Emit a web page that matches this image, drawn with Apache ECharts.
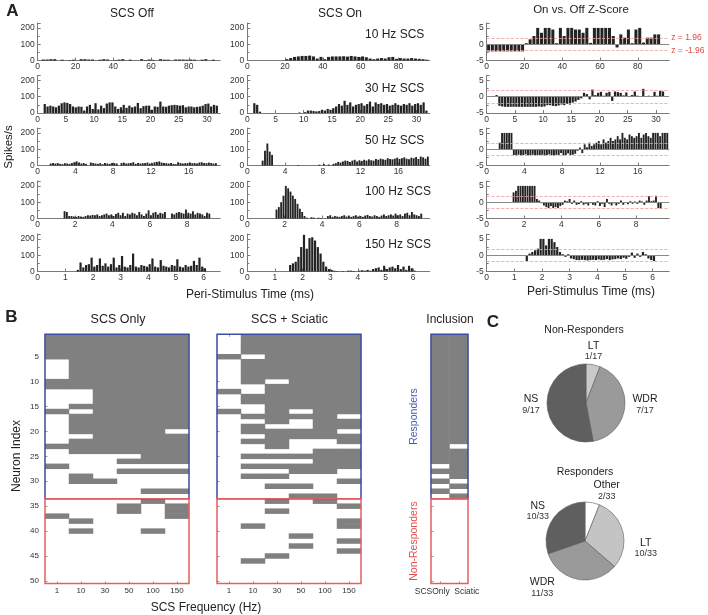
<!DOCTYPE html>
<html><head><meta charset="utf-8">
<script src="https://cdn.jsdelivr.net/npm/echarts@6/dist/echarts.min.js"></script>
<style>html,body{margin:0;padding:0;background:#fff}#c{width:708px;height:615px}</style>
</head><body><div id="c"></div>
<script>
// ================= DATA =================
// Panel A: peri-stimulus histograms (spikes/s) and z-scores
const freqLabels = ['10 Hz SCS', '30 Hz SCS', '50 Hz SCS', '100 Hz SCS', '150 Hz SCS'];
const binWidth = [2, 0.5, 0.25, 0.125, 0.1];      // ms per bin
const xMax = [96.6, 32.35, 19.33, 9.77, 6.6];      // ms
const xTickStep = [20, 5, 4, 2, 1];
const offStart = [1, 2, 5, 11, 14];                // index of first bin listed
const onStart = [10, 2, 6, 12, 15];
const zStart = [0, 2, 5, 11, 14];

const off10 = [6,6,8,8,0,5,0,3,5,0,8,8,6,6,0,5,8,6,0,3,5,8,0,5,0,0,8,3,6,4,0,8,5,5,0,6,6,6,5,6,5,0,5,8,0,5,0];
const on10 = [8,15,22,25,28,28,30,25,12,22,8,22,25,25,25,26,24,28,25,22,25,20,12,8,12,15,12,20,22,10,15,12,12,15,12,10,8,5];
const z10 = [-2.2,-2.2,-2.2,-2.2,-2.2,-2.2,-2.2,-2.2,-2.2,-2.2,0.3,1.5,2.5,5,3.5,5,5,4.5,0.3,5,2.5,5,5,4.5,4.5,3.5,5,0.4,5,5,5,5,5,2.5,-1,3,2,4.5,0.3,4.5,5,0.5,2,2,3,3,0,0];

const off30 = [55,40,45,40,35,45,60,65,62,55,40,35,40,38,15,40,50,25,60,22,45,30,58,65,65,40,25,35,50,32,45,35,40,62,30,42,45,45,20,40,38,70,40,38,45,48,50,48,45,48,35,40,40,35,38,40,45,55,58,40,50,45];
const on30 = [60,50,8,0,0,0,0,0,0,0,0,0,0,0,0,0,3,0,5,15,15,12,10,12,20,15,25,20,30,40,55,45,75,50,65,40,50,55,60,45,55,70,40,65,55,60,50,55,45,50,60,50,45,55,50,60,45,55,60,50,65,15];
const z30 = [0.2,0.5,-2.8,-3.0,-3.1,-3.1,-3.1,-3.1,-3.1,-3.1,-3.1,-3.1,-3.1,-3.1,-3.1,-3.1,-3.0,-3.1,-3.0,-2.6,-2.6,-2.8,-2.9,-2.7,-2.4,-2.6,-2.2,-2.4,-1.8,-1.5,-1.0,-0.5,1.2,0.8,-0.8,2.2,0.5,1.2,1.5,0.3,1.2,1.5,-1.3,1.6,1.4,1.2,0.4,1.3,0.2,0.5,1.6,0.3,0.2,2.4,0.2,0.3,0.2,1.5,0.3,1.8,1.6,0.1];

const off50 = [12,15,12,15,10,8,14,12,10,15,20,25,18,12,15,10,0,18,15,12,10,14,8,15,12,10,15,14,12,0,15,18,12,14,15,20,10,15,12,14,15,18,12,14,20,22,25,18,15,14,12,15,10,8,20,15,12,14,15,18,14,15,12,18,20,15,14,18,15,12,14];
const on50 = [30,90,135,85,65,0,0,0,0,0,0,0,0,0,0,3,0,0,0,0,0,0,0,0,5,0,8,0,6,0,10,14,22,18,25,30,28,22,30,35,25,32,28,35,30,38,32,30,40,35,42,38,35,45,40,38,42,48,40,45,50,42,38,48,45,52,40,55,50,42,55];
const z50 = [2,5,5,5,5,5,-1.8,-1.9,-1.7,-1.9,-1.8,-1.6,-1.9,-1.8,-1.7,-1.9,-1.8,-1.8,-1.7,-1.9,-1.8,-1.6,-1.8,-1.9,-1.7,-1.8,-1.2,-1.9,-1.8,-1.3,-1.8,-1.7,-1.4,-0.5,0.5,-1.2,1.5,0.6,2,1,1.5,2,2.5,1.5,3,2,2.5,3.5,2.5,3,4,3,5,3.5,3,4.5,4,3.5,4,5,3.5,4.5,5,4,3.5,5,5,5,4,5,5,5];

const off100 = [45,40,15,15,12,10,15,12,10,15,20,18,22,20,25,15,20,25,30,20,25,15,28,35,20,35,15,30,25,35,30,20,40,25,15,30,50,20,35,40,25,35,30,40,0,0,30,25,35,40,35,30,55,35,30,45,25,35,30,25,15,35,30,0];
const on100 = [55,70,100,140,200,185,165,140,120,90,60,40,15,5,0,8,5,0,5,3,0,0,15,20,10,15,12,10,15,20,12,18,10,15,20,12,15,10,18,22,15,12,20,15,10,18,25,15,20,25,18,30,20,25,15,30,35,20,40,25,20,15,30];
const z100 = [3,3.5,5,5,5,5,5,5,5,5,1,0.5,-0.3,-1,-1.5,-1.8,-1.2,-1.8,-1.5,-1.8,-1.2,-0.8,0.5,0.3,1,-0.5,0.5,-0.8,-0.6,0.3,-0.8,-0.5,-1,-0.3,-0.8,-1,0.3,-1.2,-0.5,-1.5,1,-0.5,-1,-0.3,-1,-0.5,0.5,-0.8,-0.2,-0.6,0.3,-0.5,0.2,-0.5,0.5,0.2,-0.8,0.5,1.8,0.3,0.5,2,-1.8,-2];

const off150 = [10,55,25,40,45,85,30,40,80,35,50,30,45,85,25,40,95,30,25,40,110,30,25,40,35,30,45,80,30,25,70,35,30,25,40,35,75,30,25,40,30,35,65,40,85,30,20,0];
const on150 = [40,50,60,90,150,225,140,205,210,190,150,110,60,30,15,10,5,3,0,3,0,5,5,3,0,5,8,5,10,5,15,20,25,10,35,15,25,30,20,40,15,30,10,35,20,5,0];
const z150 = [-1.8,0.5,1,1.5,2,5,5,3,5,5,4,2.5,1,0.3,-0.5,0.3,-1,-1.2,-1.5,-1.5,-1.4,-1.5,-1.6,-1.5,-1.4,-1.5,-1.3,-1.5,-1.4,-1.2,-1.5,-1.3,-1.2,-1.0,-1.2,-0.8,-1.1,-0.5,0.8,-0.8,0.5,-0.5,1,0.3,-1,-1.5,-1.8,0];

// Panel B: response matrices (rows = neurons 1..50, columns = SCS frequency; 1 = responded)
const freqCats = ['1', '10', '30', '50', '100', '150'];
const nResponders = 33;
const scsOnly = [
 '111111','111111','111111','111111','111111','011111','011111','011111','011111','111111',
 '111111','001111','001111','001111','011111','101111','011111','011111','011111','011110',
 '001111','011111','111111','011111','000011','000111','100000','000111','010000','011000',
 '000000','000011','000000','000010','000101','000101','100001','010000','000000','010010',
 '000000','000000','000000','000000','000000','000000','000000','000000','000000','000000'];
const scsSciatic = [
 '011111','011111','011111','011111','101111','011111','011111','011111','011111','010111',
 '001111','101111','011111','011111','001111','101011','011110','001011','010011','011110',
 '001111','011001','001000','000011','011111','000011','011111','000110','011000','000001',
 '001100','000000','000110','001010','000001','001000','000000','000001','010001','000000',
 '000100','000001','000100','000001','001000','010000','000000','000000','000000','000000'];
const inclCats = ['SCSOnly', 'Sciatic'];
const inclusion = [
 '11','11','11','11','11','11','11','11','11','11','11','11','11','11','11','11','11','11','11','11',
 '11','11','10','11','11','11','01','11','01','10','01','10','01',
 '00','00','00','00','00','00','00','00','00','00','00','00','00','00','00','00','00'];

// Panel C: neuron classes
const nonRespNames = ['LT', 'WDR', 'NS'];
const nonRespCounts = [1, 7, 9];
const respNames = ['Other', 'LT', 'WDR', 'NS'];
const respCounts = [2, 10, 11, 10];

// ================= CHART =================
const FONT = "'Liberation Sans', Arial, Helvetica, sans-serif";
const AX = '#7a7a7a', TXT = '#333';
const grids = [], xAxes = [], yAxes = [], series = [], heatIdx = [];

// ---- Panel A ----
const colLeft = [37.7, 247.3, 486.7], plotW = 182.5;
const rowBottom = [60.5, 113, 165.5, 218.5, 271.5], plotH = 37.5;
const offData = [off10, off30, off50, off100, off150];
const onData = [on10, on30, on50, on100, on150];
const zData = [z10, z30, z50, z100, z150];
const colData = [offData, onData, zData], colStart = [offStart, onStart, zStart];

for (let r = 0; r < 5; r++) {
  for (let c = 0; c < 3; c++) {
    const gi = grids.length;
    grids.push({left: colLeft[c], top: rowBottom[r] - plotH, width: plotW, height: plotH, outerBoundsMode: 'none'});
    const isZ = c === 2;
    const xi = xAxes.length, yi = yAxes.length;
    xAxes.push({gridIndex: gi, type: 'value', min: 0, max: xMax[r], interval: xTickStep[r],
      axisLine: {onZero: false, lineStyle: {color: AX, width: 1}},
      axisTick: {inside: true, length: 3, lineStyle: {color: AX}},
      axisLabel: {fontSize: 8.5, color: TXT, margin: 2, showMaxLabel: false, fontFamily: FONT},
      splitLine: {show: false}});
    yAxes.push({gridIndex: gi, type: 'value', min: isZ ? -5 : 0, max: isZ ? 6.5 : 230, interval: isZ ? 5 : 100,
      axisLine: {show: true, onZero: false, lineStyle: {color: AX, width: 1}},
      axisTick: {show: true, inside: true, length: 3, lineStyle: {color: AX}},
      minorTick: {show: true, splitNumber: 2, length: 2, lineStyle: {color: AX}},
      axisLabel: {fontSize: 8.5, color: TXT, margin: 3, showMaxLabel: false, fontFamily: FONT},
      splitLine: {show: false}, minorSplitLine: {show: false}});
    const arr = colData[c][r], s0 = colStart[c][r], bw = binWidth[r];
    const s = {type: 'bar', xAxisIndex: xi, yAxisIndex: yi, silent: true, barWidth: '80%',
      data: arr.map((v, i) => [(s0 + i + 0.5) * bw, v]), itemStyle: {color: '#232323'}};
    if (isZ) {
      const lab = (t) => ({show: r === 0, formatter: t, position: 'end', distance: 2, color: '#e04848', fontSize: 8.5, fontFamily: FONT});
      s.markLine = {silent: true, symbol: ['none', 'none'], animation: false,
        data: [
          {yAxis: 0, lineStyle: {color: '#8a8a8a', type: 'solid', width: 1}, label: {show: false}},
          {yAxis: 1.96, lineStyle: {color: '#f0a0a0', type: 'dashed', width: 0.8}, label: lab('z = 1.96')},
          {yAxis: -1.96, lineStyle: {color: '#f0a0a0', type: 'dashed', width: 0.8}, label: lab('z = -1.96')}
        ]};
    }
    series.push(s);
  }
}

// ---- Panel B ----
const rowsTop = Array.from({length: nResponders}, (_, i) => String(i + 1));
const rowsBot = Array.from({length: 50 - nResponders}, (_, i) => String(i + 1 + nResponders));
const every5 = (i, v) => Number(v) % 5 === 0;
function addHeat(left, width, cats, matrix, showY, xLabel) {
  [0, 1].forEach(part => {
    const rows = part ? rowsBot : rowsTop;
    const gi = grids.length;
    grids.push({left, width, top: part ? 498.7 : 334.3, height: part ? 84.7 : 164.4, show: true, z: 3,
      borderColor: part ? '#e35f5f' : '#3e4e9e', borderWidth: 1.5, backgroundColor: 'rgba(0,0,0,0)', outerBoundsMode: 'none'});
    const xi = xAxes.length;
    xAxes.push(Object.assign({gridIndex: gi, type: 'category', data: cats, position: 'bottom',
      axisLine: {show: false},
      axisTick: {show: part === 1, inside: true, alignWithLabel: true, length: 2, lineStyle: {color: '#999'}},
      axisLabel: {show: part === 1, interval: 0, fontSize: 8, color: TXT, margin: 3.5, fontFamily: FONT},
      splitLine: {show: false}}, part === 1 && xLabel ? xLabel : {}));
    if (part === 0) {
      xAxes.push({gridIndex: gi, type: 'category', data: cats, position: 'top', axisLine: {show: false},
        axisTick: {show: true, inside: true, alignWithLabel: true, length: 2.5, lineStyle: {color: '#999'}},
        axisLabel: {show: false}, splitLine: {show: false}});
    }
    const yi = yAxes.length;
    yAxes.push({gridIndex: gi, type: 'category', data: rows, inverse: true, axisLine: {show: false},
      axisTick: {show: true, inside: true, alignWithLabel: true, length: 2.5, interval: every5, lineStyle: {color: '#999'}},
      axisLabel: {show: showY, interval: every5, fontSize: 8, color: TXT, margin: 6, fontFamily: FONT},
      splitLine: {show: false}});
    const cells = [];
    rows.forEach((rl, ri) => {
      const str = matrix[Number(rl) - 1];
      for (let j = 0; j < str.length; j++) if (str[j] === '1') cells.push([j, ri, 1]);
    });
    heatIdx.push(series.length);
    series.push({type: 'heatmap', xAxisIndex: xi, yAxisIndex: yi, data: cells, silent: true, itemStyle: {color: '#808080'}});
  });
}
addHeat(45, 144, freqCats, scsOnly, true, null);
addHeat(217, 144, freqCats, scsSciatic, false, null);
addHeat(431, 37, inclCats, inclusion, false, {axisLabel: {show: true, interval: 0, margin: 3.5, color: TXT, fontFamily: FONT,
  formatter: v => v === 'SCSOnly' ? '{a|SCSOnly}' : '{b|Sciatic}',
  rich: {a: {fontSize: 8.5, padding: [0, 16, 0, 0], color: TXT, fontFamily: FONT}, b: {fontSize: 8.5, padding: [0, 0, 0, 16], color: TXT, fontFamily: FONT}}}});
// inclusion axis names
const inclTopY = yAxes.length - 2, inclBotY = yAxes.length - 1;
Object.assign(yAxes[inclTopY], {name: 'Responders', nameLocation: 'middle', nameGap: 11,
  nameTextStyle: {color: '#4a5aa8', fontSize: 10.5, fontFamily: FONT}});
Object.assign(yAxes[inclBotY], {name: 'Non-Responders', nameLocation: 'middle', nameGap: 11,
  nameTextStyle: {color: '#e05050', fontSize: 10.5, fontFamily: FONT}});

// ---- Panel C ----
const pieLabelPos = [
  [[7.6, -52], [59, 1.5], [-55, 1.5]],
  [[21.7, -50.5], [60.7, 6.7], [-42.7, 46.5], [-47.3, -30]]
];
function addPie(names, counts, colors, center, k) {
  const total = counts.reduce((a, b) => a + b, 0);
  series.push({type: 'pie', center, radius: 39, startAngle: 90, clockwise: true, silent: true,
    avoidLabelOverlap: false, animation: false,
    itemStyle: {borderColor: '#5a5a5a', borderWidth: 0.6},
    label: {show: true, position: 'outside', fontFamily: FONT,
      formatter: p => '{n|' + p.name + '}\n{f|' + p.value + '/' + total + '}',
      rich: {n: {fontSize: 10.5, lineHeight: 12, color: '#222', fontFamily: FONT}, f: {fontSize: 9, lineHeight: 10, color: '#333', fontFamily: FONT}}},
    labelLine: {show: false},
    labelLayout: p => ({x: center[0] + pieLabelPos[k][p.dataIndex][0], y: center[1] + pieLabelPos[k][p.dataIndex][1], align: 'center', verticalAlign: 'middle'}),
    data: names.map((n, i) => ({name: n, value: counts[i], itemStyle: {color: colors[i]}}))});
}
addPie(nonRespNames, nonRespCounts, ['#c9c9c9', '#9a9a9a', '#5f5f5f'], [586, 403], 0);
addPie(respNames, respCounts, ['#ffffff', '#c4c4c4', '#9a9a9a', '#5f5f5f'], [585, 541], 1);

// ---- Text ----
function T(text, x, y, o) {
  o = o || {};
  const al = o.align || 'center';
  return {type: 'text', x, y, rotation: o.rot || 0, silent: true, z: 10,
    style: {text, fontSize: o.size || 12, fontFamily: FONT, fontWeight: o.bold ? 'bold' : 'normal', fill: o.color || '#222',
      align: al, verticalAlign: 'middle', textAlign: al, textVerticalAlign: 'middle'}};
}
const texts = [
  T('A', 12.5, 11, {size: 17, bold: true}),
  T('SCS Off', 132, 13.5), T('SCS On', 340, 13.5), T('On vs. Off Z-Score', 581, 10, {size: 11.5}),
  T('Spikes/s', 9, 147, {rot: Math.PI / 2, size: 11.5}),
  T('Peri-Stimulus Time (ms)', 250, 295), T('Peri-Stimulus Time (ms)', 591, 292),
  T('B', 11.5, 317, {size: 17, bold: true}),
  T('SCS Only', 118, 320, {size: 12.5}), T('SCS + Sciatic', 289.5, 320, {size: 12.5}), T('Inclusion', 450, 320, {size: 12}),
  T('Neuron Index', 17, 456, {rot: Math.PI / 2}),
  T('SCS Frequency (Hz)', 206, 607.5),
  T('C', 493, 322, {size: 17, bold: true}),
  T('Non-Responders', 584, 330, {size: 10.5}),
  T('Responders', 585, 472, {size: 10.5})
];
const freqY = [35, 89, 140.7, 191.7, 245];
freqLabels.forEach((t, i) => texts.push(T(t, 365, freqY[i], {align: 'left'})));

const chart = echarts.init(document.getElementById('c'), null, {renderer: 'canvas'});
chart.setOption({
  animation: false,
  backgroundColor: '#fff',
  textStyle: {fontFamily: FONT},
  grid: grids, xAxis: xAxes, yAxis: yAxes, series,
  visualMap: [{type: 'piecewise', show: false, seriesIndex: heatIdx, dimension: 2,
    pieces: [{value: 1, color: '#808080'}], outOfRange: {color: 'rgba(0,0,0,0)'}}],
  graphic: texts
});
</script></body></html>
